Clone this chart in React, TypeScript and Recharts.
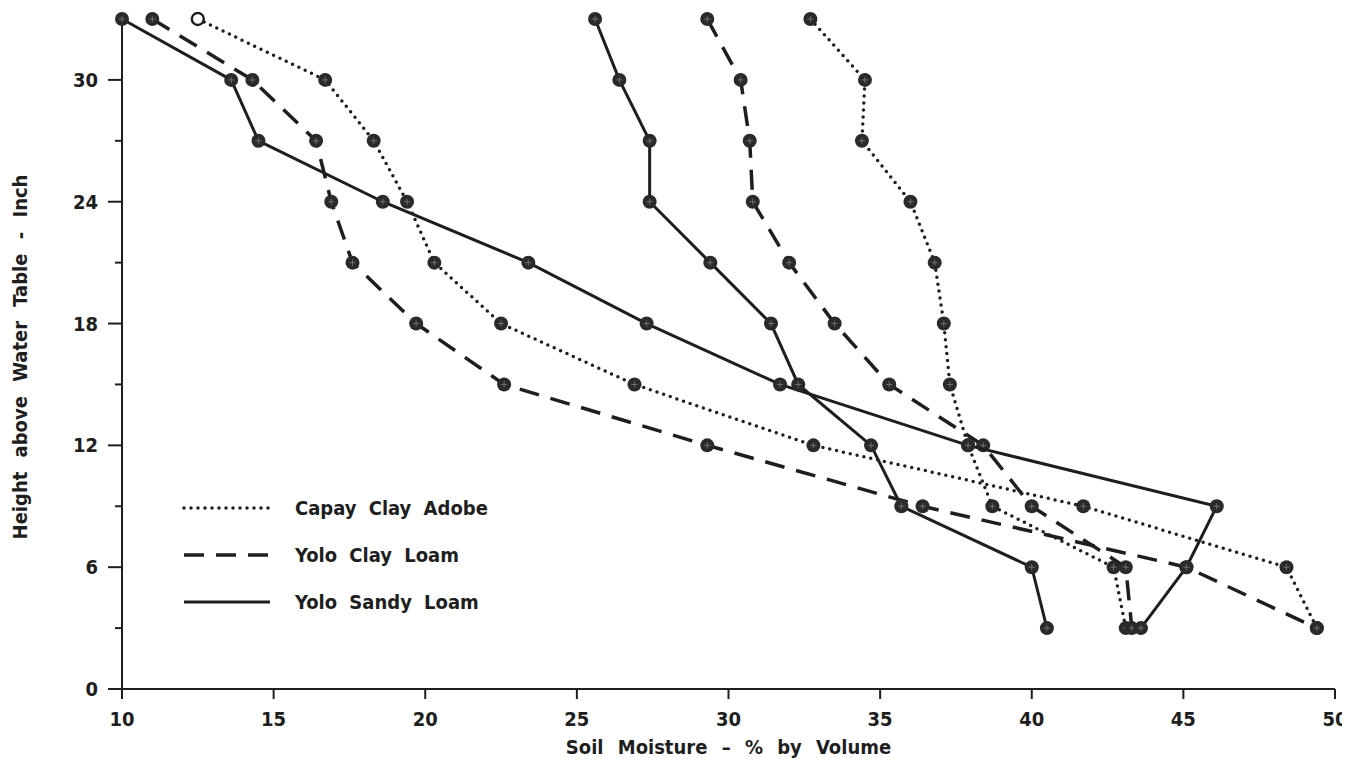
import React from "react";
import { ScatterChart, Scatter, XAxis, YAxis, Legend } from "recharts";

const heights = [33, 30, 27, 24, 21, 18, 15, 12, 9, 6, 3];
const capayA = [12.5, 16.7, 18.3, 19.4, 20.3, 22.5, 26.9, 32.8, 41.7, 48.4, 49.4];
const capayB = [32.7, 34.5, 34.4, 36.0, 36.8, 37.1, 37.3, 37.9, 38.7, 42.7, 43.1];
const yoloClayA = [11.0, 14.3, 16.4, 16.9, 17.6, 19.7, 22.6, 29.3, 36.4, 45.1, 49.4];
const yoloClayB = [29.3, 30.4, 30.7, 30.8, 32.0, 33.5, 35.3, 38.4, 40.0, 43.1, 43.3];
const yoloSandyA = [10.0, 13.6, 14.5, 18.6, 23.4, 27.3, 31.7, 37.9, 46.1, 45.1, 43.6];
const yoloSandyB = [25.6, 26.4, 27.4, 27.4, 29.4, 31.4, 32.3, 34.7, 35.7, 40.0, 40.5];

const xTicks = [10, 15, 20, 25, 30, 35, 40, 45, 50];
const yTicks = [0, 3, 6, 9, 12, 15, 18, 21, 24, 27, 30];
const yLabelled = [0, 6, 12, 18, 24, 30];

const legendItems = ["Capay Clay Adobe", "Yolo Clay Loam", "Yolo Sandy Loam"];
const xTitle = "Soil Moisture – % by Volume";
const yTitle = "Height above Water Table - Inch";

const INK = "#1e1e1e";
const FONT = "'DejaVu Sans Condensed', 'DejaVu Sans', sans-serif";
const FS = 20;

const toPoints = (vals: number[]) => heights.map((h, i) => ({ x: vals[i], y: h }));

const styles: Record<string, any> = {
  dotted: { stroke: INK, strokeWidth: 3.5, strokeDasharray: "0 7", strokeLinecap: "round", fill: "none" },
  dashed: { stroke: INK, strokeWidth: 3.5, strokeDasharray: "20 12", fill: "none" },
  solid: { stroke: INK, strokeWidth: 3, fill: "none" },
};

const makeShape = (openTop: boolean) => (props: any) => {
  const { cx, cy, payload } = props;
  if (cx == null || cy == null) return <g />;
  if (openTop && payload && payload.y === heights[0]) {
    return <circle cx={cx} cy={cy} r={6} fill="#fff" stroke={INK} strokeWidth={2.4} />;
  }
  return (
    <g>
      <circle cx={cx} cy={cy} r={7} fill="#2a2a2a" />
      <line x1={cx - 3} x2={cx + 3} y1={cy} y2={cy} stroke="#707070" strokeWidth={1} />
      <line x1={cx} x2={cx} y1={cy - 3} y2={cy + 3} stroke="#707070" strokeWidth={1} />
    </g>
  );
};

const YTick = (props: any) => {
  const { x, y, payload } = props;
  const v = payload.value;
  const major = yLabelled.includes(v);
  return (
    <g>
      <line x1={x - (major ? 14 : 7)} x2={x} y1={y} y2={y} stroke={INK} strokeWidth={2} />
      {major && (
        <text x={x - 24} y={y} textAnchor="end" dominantBaseline="central" fontFamily={FONT} fontWeight="bold" fontSize={FS} fill={INK}>
          {v}
        </text>
      )}
    </g>
  );
};

const XTick = (props: any) => {
  const { x, y, payload } = props;
  return (
    <text x={x} y={y} textAnchor="middle" dominantBaseline="hanging" fontFamily={FONT} fontWeight="bold" fontSize={FS} fill={INK}>
      {payload.value}
    </text>
  );
};

const renderLegend = () => (
  <svg width={420} height={125}>
    {legendItems.map((name, i) => {
      const key = i === 0 ? "dotted" : i === 1 ? "dashed" : "solid";
      const y = 15 + i * 47;
      return (
        <g key={name}>
          <line x1={2} x2={88} y1={y} y2={y} {...styles[key]} />
          <text x={113} y={y} dominantBaseline="central" fontFamily={FONT} fontWeight="bold" fontSize={FS} wordSpacing={6} fill={INK}>
            {name}
          </text>
        </g>
      );
    })}
  </svg>
);

export default function App() {
  return (
    <div style={{ background: "#fff", width: 1342, height: 751, overflow: "hidden" }}>
      <ScatterChart width={1342} height={751} margin={{ top: 11, right: 15, bottom: 0, left: 0 }}>
        <XAxis
          type="number"
          dataKey="x"
          domain={[10, 50]}
          ticks={xTicks}
          height={70}
          tickSize={10}
          tickMargin={12}
          axisLine={{ stroke: INK, strokeWidth: 2 }}
          tickLine={{ stroke: INK, strokeWidth: 2 }}
          tick={<XTick />}
          label={{
            content: (p: any) => {
              const vb = p.viewBox;
              return (
                <text x={vb.x + vb.width / 2} y={vb.y + 65} textAnchor="middle" fontFamily={FONT} fontWeight="bold" fontSize={FS} wordSpacing={8} fill={INK}>
                  {xTitle}
                </text>
              );
            },
          }}
        />
        <YAxis
          type="number"
          dataKey="y"
          domain={[0, 33]}
          ticks={yTicks}
          width={114}
          tickSize={0}
          tickMargin={0}
          interval={0}
          axisLine={{ stroke: INK, strokeWidth: 2 }}
          tickLine={false}
          tick={<YTick />}
          label={{
            content: () => (
              <text x={12} y={349} transform="rotate(-90 12 349)" textAnchor="middle" dominantBaseline="central" fontFamily={FONT} fontWeight="bold" fontSize={FS} wordSpacing={8} fill={INK}>
                {yTitle}
              </text>
            ),
          }}
        />
        <Legend
          layout="horizontal"
          verticalAlign="middle"
          align="center"
          content={renderLegend}
          wrapperStyle={{ position: "absolute", left: 174, top: 485, width: 420, height: 125 }}
        />
        <Scatter name="Capay A" data={toPoints(capayA)} line={styles.dotted} shape={makeShape(true)} isAnimationActive={false} />
        <Scatter name="Capay B" data={toPoints(capayB)} line={styles.dotted} shape={makeShape(false)} isAnimationActive={false} />
        <Scatter name="Yolo Clay A" data={toPoints(yoloClayA)} line={styles.dashed} shape={makeShape(false)} isAnimationActive={false} />
        <Scatter name="Yolo Clay B" data={toPoints(yoloClayB)} line={styles.dashed} shape={makeShape(false)} isAnimationActive={false} />
        <Scatter name="Yolo Sandy A" data={toPoints(yoloSandyA)} line={styles.solid} shape={makeShape(false)} isAnimationActive={false} />
        <Scatter name="Yolo Sandy B" data={toPoints(yoloSandyB)} line={styles.solid} shape={makeShape(false)} isAnimationActive={false} />
      </ScatterChart>
    </div>
  );
}
